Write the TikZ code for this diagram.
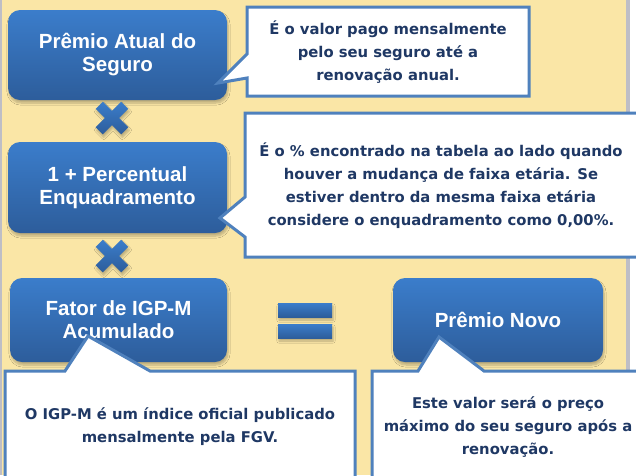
\documentclass[tikz,border=0pt]{standalone}
\usepackage{fontspec}
\setmainfont{Liberation Sans}
\newfontfamily\notefont{DejaVu Sans}
\usetikzlibrary{shadows.blur}

\definecolor{paper}{HTML}{FAE6A6}
\definecolor{edgegrey}{HTML}{BEBEC6}
\definecolor{boxtop}{HTML}{3B7DCB}
\definecolor{boxbot}{HTML}{2D5D9B}
\definecolor{rimblue}{HTML}{4F81BD}
\definecolor{ink}{HTML}{1F3864}

\tikzset{
  box/.style={rounded corners=12pt, top color=boxtop, bottom color=boxbot,
    text=white, font=\bfseries\fontsize{20.5}{23}\selectfont, align=center,
    inner sep=0pt,
    blur shadow={shadow xshift=1pt, shadow yshift=-3pt, shadow blur steps=6,
      shadow opacity=25}},
  sign/.style={top color=boxtop, bottom color=boxbot,
    blur shadow={shadow xshift=1pt, shadow yshift=-3pt, shadow blur steps=4,
      shadow opacity=25}},
  callout/.style={fill=white, draw=rimblue, line width=3pt, line join=miter},
  note/.style={text=ink, font=\notefont\bfseries\fontsize{14.8}{23}\selectfont,
    align=center, inner sep=0pt}
}

\begin{document}
\begin{tikzpicture}[x=1pt,y=-1pt]
        \useasboundingbox (0,0) rectangle (636,475);
        \clip (0,0) rectangle (636,475);
        % page background
        \fill[white] (0,0) rectangle (636,475);
        \fill[paper] (0,0) rectangle (627,475);
        \fill[edgegrey] (0,0) rectangle (2,475);
        \fill[edgegrey] (626,0) rectangle (629.5,475);

        % the four terms
        \node[box, minimum width=219pt, minimum height=90pt] (atual) at (117.5,55) {Prêmio Atual do\\Seguro};
        \node[box, minimum width=219pt, minimum height=91pt] (enquad) at (117.5,187.5) {1 + Percentual\\Enquadramento};
        \node[box, minimum width=217pt, minimum height=84pt] (fator) at (118.5,320) {Fator de IGP-M\\Acumulado};
        \node[box, minimum width=210pt, minimum height=84pt] (novo) at (498,320) {Prêmio Novo};

        % times signs
        \foreach \cy in {118,256}
          \path[sign, shift={(112,\cy)}] (0,-7.1) -- (9.2,-16.3) -- (16.3,-9.2) -- (7.1,0)
            -- (16.3,9.2) -- (9.2,16.3) -- (0,7.1) -- (-9.2,16.3) -- (-16.3,9.2)
            -- (-7.1,0) -- (-16.3,-9.2) -- (-9.2,-16.3) -- cycle ;
        % equals sign
        \foreach \by in {303,324}
          \path[sign] (278,\by) rectangle (332,\by+14) ;

        % callouts
        \draw[callout] (247,7) -- (529,7) -- (529,96) -- (247,96) -- (247,78)
          -- (218,83) -- (247,54) -- cycle ;
        \draw[callout] (245,113) -- (645,113) -- (645,257) -- (245,257) -- (245,237)
          -- (220,218) -- (245,197) -- cycle ;
        \draw[callout] (5,371) -- (65,371) -- (88,336) -- (150,371) -- (355,371)
          -- (355,485) -- (5,485) -- cycle ;
        \draw[callout] (372,371) -- (418,371) -- (439,337) -- (484,371) -- (645,371)
          -- (645,485) -- (372,485) -- cycle ;

        \node[note] (valor) at (388,52) {É o valor pago mensalmente\\pelo seu seguro até a\\renovação anual.};
        \node[note] (tabela) at (441,186) {É o \% encontrado na tabela ao lado quando\\houver a mudança de faixa etária. Se\\estiver dentro da mesma faixa etária\\considere o enquadramento como 0,00\%.};
        \node[note] (igpm) at (180,427) {O IGP-M é um índice oficial publicado\\mensalmente pela FGV.};
        \node[note] (preco) at (508,427) {Este valor será o preço\\máximo do seu seguro após a\\renovação.};
      \end{tikzpicture}
\end{document}
